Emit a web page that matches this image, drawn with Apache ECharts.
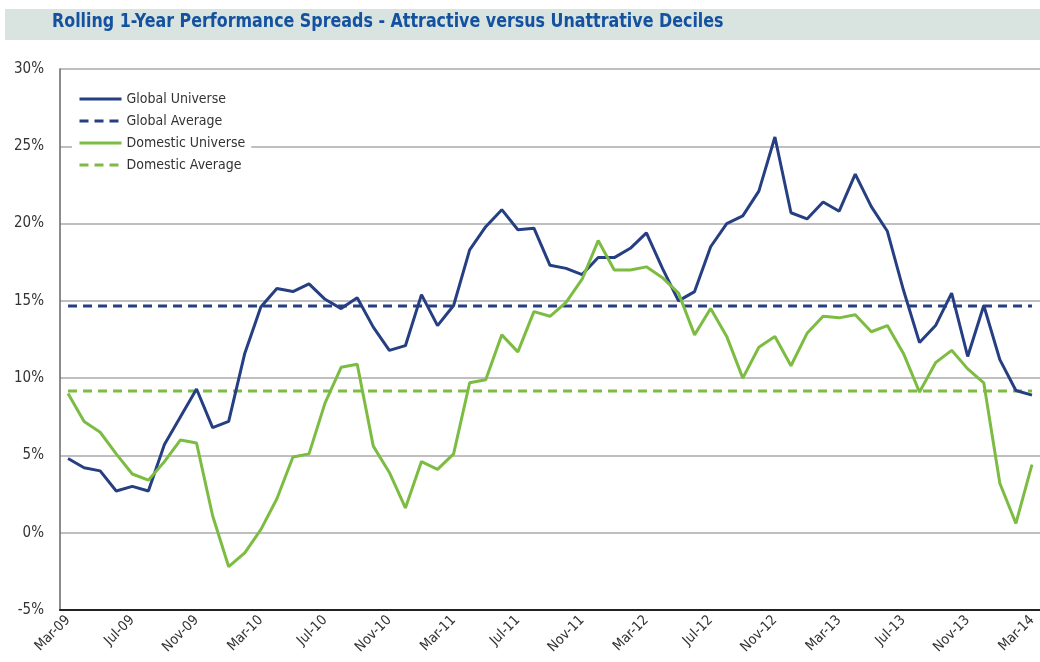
<!DOCTYPE html>
<html>
<head>
<meta charset="utf-8">
<script src="https://cdn.jsdelivr.net/npm/echarts@6/dist/echarts.min.js"></script>
<style>
  html, body { margin: 0; padding: 0; background: #fff; }
  #chart { width: 1040px; height: 662px; }
</style>
</head>
<body>
<div id="chart"></div>
<script>
// months Mar-09 .. Mar-14
var monthNames = ['Jan', 'Feb', 'Mar', 'Apr', 'May', 'Jun', 'Jul', 'Aug', 'Sep', 'Oct', 'Nov', 'Dec'];
var months = [];
for (var k = 0; k < 61; k++) {
  var m = (2 + k) % 12;
  var yr = 9 + Math.floor((2 + k) / 12);
  months.push(monthNames[m] + '-' + (yr < 10 ? '0' + yr : yr));
}

var globalUniverse = [
  4.8, 4.2, 4.0, 2.7, 3.0, 2.7, 5.7, 7.5, 9.3, 6.8,
  7.2, 11.6, 14.6, 15.8, 15.6, 16.1, 15.1, 14.5, 15.2, 13.3,
  11.8, 12.1, 15.4, 13.4, 14.7, 18.3, 19.8, 20.9, 19.6, 19.7,
  17.3, 17.1, 16.7, 17.8, 17.8, 18.4, 19.4, 17.1, 15.0, 15.6,
  18.5, 20.0, 20.5, 22.1, 25.6, 20.7, 20.3, 21.4, 20.8, 23.2,
  21.1, 19.5, 15.7, 12.3, 13.4, 15.5, 11.4, 14.7, 11.2, 9.2,
  8.9
];
var domesticUniverse = [
  9.0, 7.2, 6.5, 5.1, 3.8, 3.4, 4.6, 6.0, 5.8, 1.1,
  -2.2, -1.3, 0.2, 2.2, 4.9, 5.1, 8.4, 10.7, 10.9, 5.6,
  3.9, 1.6, 4.6, 4.1, 5.1, 9.7, 9.9, 12.8, 11.7, 14.3,
  14.0, 14.9, 16.4, 18.9, 17.0, 17.0, 17.2, 16.5, 15.5, 12.8,
  14.5, 12.7, 10.0, 12.0, 12.7, 10.8, 12.9, 14.0, 13.9, 14.1,
  13.0, 13.4, 11.6, 9.1, 11.0, 11.8, 10.6, 9.7, 3.2, 0.6,
  4.4
];
var globalAverage = 14.66;
var domesticAverage = 9.17;

var yTicks = [-5, 0, 5, 10, 15, 20, 25, 30];

var navy = '#263f82';
var green = '#7dbc42';
var font = "'Liberation Sans Narrow', 'DejaVu Sans Condensed', 'Liberation Sans', sans-serif";

var chart = echarts.init(document.getElementById('chart'));

var option = {
  animation: false,
  graphic: [
    {
      type: 'rect',
      left: 5, top: 9,
      shape: { width: 1035, height: 31 },
      style: { fill: '#d9e3e0' },
      z: -1
    },
    {
      type: 'text',
      x: 52, y: 13,
      scaleX: 0.93,
      style: {
        text: 'Rolling 1-Year Performance Spreads - Attractive versus Unattrative Deciles',
        font: 'bold 19px ' + font,
        fill: '#1452a0'
      }
    }
  ],
  legend: {
    orient: 'vertical',
    left: 72,
    top: 88,
    padding: [4, 6, 4, 6],
    backgroundColor: '#fff',
    itemWidth: 42,
    itemHeight: 14,
    itemGap: 8,
    itemStyle: { opacity: 0 },
    lineStyle: { width: 3 },
    textStyle: { fontFamily: font, fontSize: 14, color: '#333' },
    data: ['Global Universe', 'Global Average', 'Domestic Universe', 'Domestic Average']
  },
  grid: {
    left: 60,
    top: 69,
    width: 985,
    bottom: 52
  },
  xAxis: {
    type: 'category',
    data: months,
    boundaryGap: true,
    axisLine: { onZero: false, lineStyle: { color: '#222', width: 2 } },
    axisTick: { show: false },
    axisLabel: {
      interval: 3,
      rotate: 45,
      margin: 8,
      fontFamily: font,
      fontSize: 14,
      color: '#333'
    }
  },
  yAxis: {
    type: 'value',
    min: yTicks[0],
    max: yTicks[yTicks.length - 1],
    interval: 5,
    axisLine: { show: true, lineStyle: { color: '#666', width: 1.5 } },
    axisTick: { show: false },
    axisLabel: {
      formatter: '{value}%',
      margin: 16,
      fontFamily: font,
      fontSize: 15,
      color: '#333'
    },
    splitLine: { lineStyle: { color: '#aaa', width: 1.5 } }
  },
  series: [
    {
      name: 'Global Universe',
      type: 'line',
      data: globalUniverse,
      symbol: 'none',
      lineStyle: { color: navy, width: 3 },
      itemStyle: { color: navy },
      z: 4
    },
    {
      name: 'Global Average',
      type: 'line',
      data: months.map(function () { return globalAverage; }),
      symbol: 'none',
      lineStyle: { color: navy, width: 3, type: [9, 6] },
      itemStyle: { color: navy },
      z: 3
    },
    {
      name: 'Domestic Universe',
      type: 'line',
      data: domesticUniverse,
      symbol: 'none',
      lineStyle: { color: green, width: 3 },
      itemStyle: { color: green },
      z: 4
    },
    {
      name: 'Domestic Average',
      type: 'line',
      data: months.map(function () { return domesticAverage; }),
      symbol: 'none',
      lineStyle: { color: green, width: 3, type: [9, 6] },
      itemStyle: { color: green },
      z: 3
    }
  ]
};

chart.setOption(option);
</script>
</body>
</html>
